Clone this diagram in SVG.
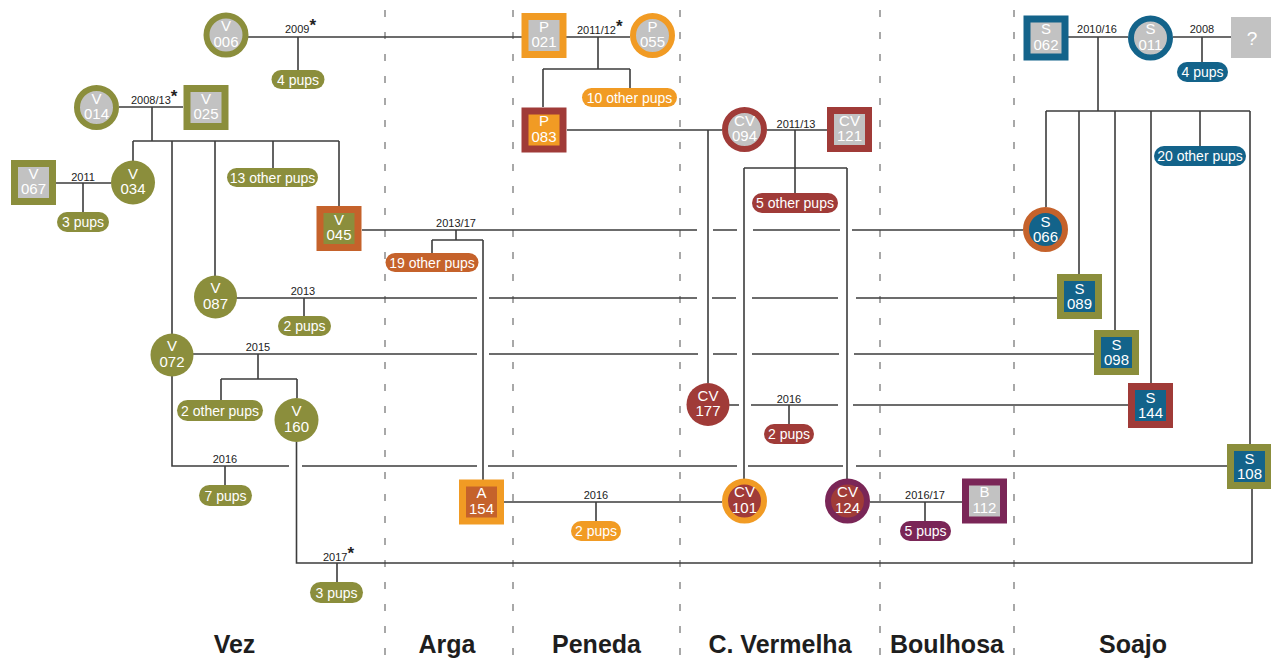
<svg xmlns="http://www.w3.org/2000/svg" width="1271" height="660" viewBox="0 0 1271 660">
<style>
.ln{stroke:#3d3d3d;stroke-width:1.6;fill:none}
.sep{stroke:#7a7a7a;stroke-width:1.3;stroke-dasharray:7 15}
text{font-family:"Liberation Sans",Arial,Helvetica,sans-serif}
.nt{font-size:15px;fill:#fff;text-anchor:middle}
.pt{font-size:14px;fill:#fff;text-anchor:middle}
.yr{font-size:11px;fill:#222;text-anchor:middle}
.yl{font-size:11px;fill:#222}
.ast{font-size:17px;font-weight:bold}
.reg{font-size:25px;font-weight:bold;fill:#1e1e1e;text-anchor:middle}
.g{fill:#8b8e3c}.o{fill:#f19b24}.r{fill:#c5622b}.d{fill:#a03b38}.p{fill:#7a2657}.b{fill:#13638a}.gy{fill:#c2c2c2}
.sg{stroke:#8b8e3c}.so{stroke:#f19b24}.sr{stroke:#c5622b}.sd{stroke:#a03b38}.sp{stroke:#7a2657}.sb{stroke:#13638a}
.ring{stroke-width:6}
.box{stroke-width:7}
</style>

<g id="separators">
<line class="sep" x1="385" y1="10" x2="385" y2="660"/>
<line class="sep" x1="513" y1="10" x2="513" y2="660"/>
<line class="sep" x1="680" y1="10" x2="680" y2="660"/>
<line class="sep" x1="880" y1="10" x2="880" y2="660"/>
<line class="sep" x1="1014" y1="10" x2="1014" y2="660"/>
</g>

<g id="connectors">
<path class="ln" d="M248,37 H522 M298,37 V70"/>
<path class="ln" d="M119,107 H183 M152,107 V141 M133,141 H339 M133,141 V161 M172,141 V334 M215,141 V276 M273,141 V168 M339,141 V206"/>
<path class="ln" d="M172,376 V466 H289 M302,466 H477 M488,466 H737 M748,466 H843 M856,466 H1228 M225,466 V485"/>
<path class="ln" d="M56,183 H111 M83,183 V212"/>
<path class="ln" d="M362,230 H697 M713,230 H737 M753,230 H840 M852,230 H1023 M456,230 V240 M432,240 H483 M432,240 V253 M483,240 V483"/>
<path class="ln" d="M236,298 H477 M489,298 H697 M712,298 H736 M752,298 H838 M856,298 H1057 M304,298 V316"/>
<path class="ln" d="M193,354 H477 M489,354 H698 M713,354 H737 M752,354 H839 M854,354 H1094 M258,354 V379 M221,379 H297 M221,379 V400 M297,379 V398"/>
<path class="ln" d="M296.5,442 V563 H1252 V489 M337,563 V582"/>
<path class="ln" d="M566,37 H630 M598,37 V69 M543,69 H630 M543,69 V107 M630,69 V88"/>
<path class="ln" d="M567,130 H722 M708,130 V383"/>
<path class="ln" d="M767,130 H827 M795,130 V193 M744,168 H847 M744,168 V479 M847,168 V479"/>
<path class="ln" d="M729,405 H739 M751,405 H838 M853,405 H1128 M789,405 V424"/>
<path class="ln" d="M504,502 H722 M596,502 V521 M870,502 H962 M925,502 V521"/>
<path class="ln" d="M1068,37 H1128 M1173,37 H1231 M1202,37 V62 M1098,37 V111 M1046,111 H1250 M1046,111 V207 M1079,111 V274 M1115,111 V330 M1151,111 V383 M1200,111 V146 M1250,111 V444"/>
</g>

<g id="year-labels">
<text class="yl" x="285" y="33">2009<tspan class="ast" dy="-2">*</tspan></text>
<text class="yl" x="131" y="104">2008/13<tspan class="ast" dy="-2">*</tspan></text>
<text class="yl" x="577" y="34">2011/12<tspan class="ast" dy="-2">*</tspan></text>
<text class="yl" x="323" y="561">2017<tspan class="ast" dy="-2">*</tspan></text>
<text class="yr" x="83" y="181">2011</text>
<text class="yr" x="456" y="227">2013/17</text>
<text class="yr" x="303" y="295">2013</text>
<text class="yr" x="258" y="351">2015</text>
<text class="yr" x="225" y="463">2016</text>
<text class="yr" x="1097" y="33">2010/16</text>
<text class="yr" x="1202" y="33">2008</text>
<text class="yr" x="796" y="128">2011/13</text>
<text class="yr" x="789" y="403">2016</text>
<text class="yr" x="596" y="499">2016</text>
<text class="yr" x="925" y="499">2016/17</text>
</g>

<g id="pups">
<g><rect class="g" x="271.5" y="70" width="53" height="19" rx="9.5"/><text class="pt" x="298" y="84.5">4 pups</text></g>
<g><rect class="g" x="227" y="168" width="91" height="19" rx="9.5"/><text class="pt" x="272.5" y="182.5">13 other pups</text></g>
<g><rect class="g" x="57" y="212" width="52" height="20" rx="10"/><text class="pt" x="83" y="227">3 pups</text></g>
<g><rect class="r" x="385.5" y="253" width="93" height="19" rx="9.5"/><text class="pt" x="432" y="267.5">19 other pups</text></g>
<g><rect class="g" x="278" y="316" width="53" height="20" rx="10"/><text class="pt" x="304.5" y="331">2 pups</text></g>
<g><rect class="g" x="177" y="400" width="86" height="21" rx="10.5"/><text class="pt" x="220" y="415.5">2 other pups</text></g>
<g><rect class="g" x="199" y="485" width="53" height="21" rx="10.5"/><text class="pt" x="225.5" y="500.5">7 pups</text></g>
<g><rect class="g" x="310" y="582" width="53" height="21" rx="10.5"/><text class="pt" x="336.5" y="597.5">3 pups</text></g>
<g><rect class="o" x="582" y="88" width="95" height="19" rx="9.5"/><text class="pt" x="629.5" y="102.5">10 other pups</text></g>
<g><rect class="d" x="752" y="193" width="86" height="20" rx="10"/><text class="pt" x="795" y="208">5 other pups</text></g>
<g><rect class="d" x="764" y="424" width="50" height="20" rx="10"/><text class="pt" x="789" y="439">2 pups</text></g>
<g><rect class="o" x="571" y="521" width="50" height="20" rx="10"/><text class="pt" x="596" y="536">2 pups</text></g>
<g><rect class="p" x="900" y="521" width="51" height="20" rx="10"/><text class="pt" x="925.5" y="536">5 pups</text></g>
<g><rect class="b" x="1177" y="62" width="51" height="20" rx="10"/><text class="pt" x="1202.5" y="77">4 pups</text></g>
<g><rect class="b" x="1154" y="146" width="92" height="20" rx="10"/><text class="pt" x="1200" y="161">20 other pups</text></g>
</g>

<g id="V006"><circle class="gy sg ring" cx="226" cy="35" r="19.5"/><text class="nt" x="226" y="31">V<tspan x="226" dy="15.5">006</tspan></text></g>
<g id="V014"><circle class="gy sg ring" cx="96.5" cy="107.5" r="19.5"/><text class="nt" x="96.5" y="103.5">V<tspan x="96.5" dy="15.5">014</tspan></text></g>
<g id="V025"><rect class="gy sg box" x="187" y="88.5" width="38" height="38"/><text class="nt" x="206" y="103.5">V<tspan x="206" dy="15.5">025</tspan></text></g>
<g id="V067"><rect class="gy sg box" x="14.5" y="163.5" width="38" height="38"/><text class="nt" x="33.5" y="178.5">V<tspan x="33.5" dy="15.5">067</tspan></text></g>
<g id="V034"><circle class="g" cx="133" cy="182.5" r="22"/><text class="nt" x="133" y="178.5">V<tspan x="133" dy="15.5">034</tspan></text></g>
<g id="V045"><rect class="g sr box" x="320" y="209.5" width="38" height="38"/><text class="nt" x="339" y="224.5">V<tspan x="339" dy="15.5">045</tspan></text></g>
<g id="V087"><circle class="g" cx="215.5" cy="297" r="21.5"/><text class="nt" x="215.5" y="293">V<tspan x="215.5" dy="15.5">087</tspan></text></g>
<g id="V072"><circle class="g" cx="172" cy="355" r="21.5"/><text class="nt" x="172" y="351">V<tspan x="172" dy="15.5">072</tspan></text></g>
<g id="V160"><circle class="g" cx="296.5" cy="420" r="22"/><text class="nt" x="296.5" y="416">V<tspan x="296.5" dy="15.5">160</tspan></text></g>

<g id="P021"><rect class="gy so box" x="525" y="16.5" width="38" height="38"/><text class="nt" x="544" y="31.5">P<tspan x="544" dy="15.5">021</tspan></text></g>
<g id="P055"><circle class="gy so ring" cx="652.5" cy="35.5" r="19.5"/><text class="nt" x="652.5" y="31.5">P<tspan x="652.5" dy="15.5">055</tspan></text></g>
<g id="P083"><rect class="o sd box" x="525" y="111" width="38" height="38"/><text class="nt" x="544" y="126">P<tspan x="544" dy="15.5">083</tspan></text></g>
<g id="A154"><rect class="r so box" x="462.5" y="483" width="38" height="38"/><text class="nt" x="481.5" y="498">A<tspan x="481.5" dy="15.5">154</tspan></text></g>

<g id="CV094"><circle class="gy sd ring" cx="744.5" cy="129.5" r="19.5"/><text class="nt" x="744.5" y="125.5">CV<tspan x="744.5" dy="15.5">094</tspan></text></g>
<g id="CV121"><rect class="gy sd box" x="830.5" y="110.5" width="38" height="38"/><text class="nt" x="849.5" y="125.5">CV<tspan x="849.5" dy="15.5">121</tspan></text></g>
<g id="CV177"><circle class="d" cx="708" cy="404.5" r="21.5"/><text class="nt" x="708" y="400.5">CV<tspan x="708" dy="15.5">177</tspan></text></g>
<g id="CV101"><circle class="d so ring" cx="744.5" cy="501" r="19.5"/><text class="nt" x="744.5" y="497">CV<tspan x="744.5" dy="15.5">101</tspan></text></g>
<g id="CV124"><circle class="d sp ring" cx="847.5" cy="501" r="19.5"/><text class="nt" x="847.5" y="497">CV<tspan x="847.5" dy="15.5">124</tspan></text></g>
<g id="B112"><rect class="gy sp box" x="965.5" y="482" width="38" height="38"/><text class="nt" x="984.5" y="497">B<tspan x="984.5" dy="15.5">112</tspan></text></g>

<g id="S062"><rect class="gy sb box" x="1027" y="19" width="38" height="38"/><text class="nt" x="1046" y="34">S<tspan x="1046" dy="15.5">062</tspan></text></g>
<g id="S011"><circle class="gy sb ring" cx="1150.5" cy="38" r="19.5"/><text class="nt" x="1150.5" y="34">S<tspan x="1150.5" dy="15.5">011</tspan></text></g>
<g id="unknown"><rect class="gy" x="1231" y="17" width="42" height="41"/><text x="1252" y="45" style="font-size:19px;fill:#fff;text-anchor:middle">?</text></g>
<g id="S066"><circle class="b sr ring" cx="1045.5" cy="229.5" r="19.5"/><text class="nt" x="1045.5" y="226.5">S<tspan x="1045.5" dy="15">066</tspan></text></g>
<g id="S089"><rect class="b sg box" x="1060.5" y="277.5" width="38" height="38"/><text class="nt" x="1079.5" y="294">S<tspan x="1079.5" dy="15">089</tspan></text></g>
<g id="S098"><rect class="b sg box" x="1097.5" y="333.5" width="38" height="38"/><text class="nt" x="1116.5" y="350">S<tspan x="1116.5" dy="15">098</tspan></text></g>
<g id="S144"><rect class="b sd box" x="1131.5" y="386.5" width="38" height="38"/><text class="nt" x="1150.5" y="403">S<tspan x="1150.5" dy="15">144</tspan></text></g>
<g id="S108"><rect class="b sg box" x="1230.5" y="447.5" width="38" height="38"/><text class="nt" x="1249.5" y="464">S<tspan x="1249.5" dy="15">108</tspan></text></g>

<g id="regions">
<text class="reg" x="234.5" y="653">Vez</text>
<text class="reg" x="447" y="653">Arga</text>
<text class="reg" x="596.5" y="653">Peneda</text>
<text class="reg" x="780" y="653">C. Vermelha</text>
<text class="reg" x="947" y="653">Boulhosa</text>
<text class="reg" x="1133" y="653">Soajo</text>
</g>
</svg>
